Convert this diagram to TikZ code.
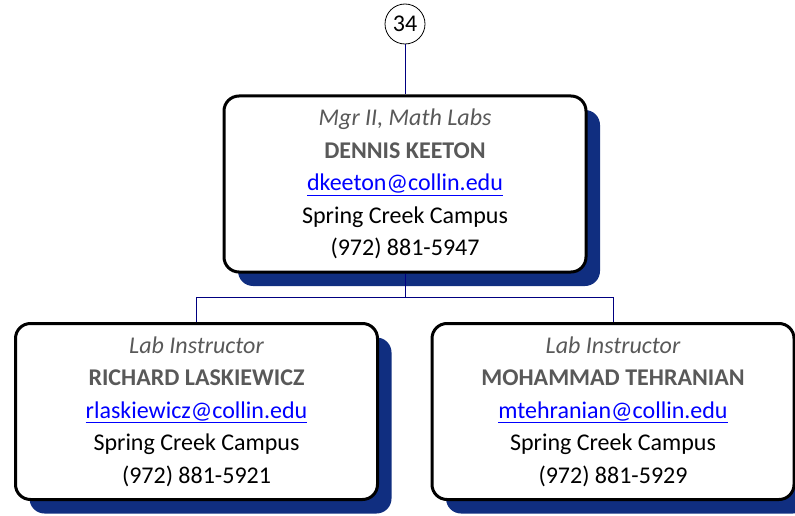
\documentclass[tikz,border=0pt]{standalone}
\usepackage{fontspec}
\setmainfont{Carlito}
\usetikzlibrary{shadows}
\definecolor{navyshade}{RGB}{16,46,128}
\definecolor{linenavy}{RGB}{0,0,128}
\definecolor{txtgray}{RGB}{89,89,89}
\definecolor{linkblue}{RGB}{0,0,255}
\tikzset{
  posbox/.style={draw=black, line width=3pt, fill=white, rounded corners=15pt,
    minimum width=362pt, minimum height=176pt, inner sep=0pt, align=center,
    font=\fontsize{24}{32.5}\selectfont,
    drop shadow={shadow xshift=14pt, shadow yshift=-14pt, fill=navyshade, opacity=1}},
  orgline/.style={draw=linenavy, line width=1pt},
  pagenum/.style={circle, draw, line width=0.8pt, minimum size=40pt, inner sep=0pt,
    font=\fontsize{24}{24}\selectfont}
}
\newcommand{\postitle}[1]{{\color{txtgray}\itshape #1}}
\newcommand{\posname}[1]{{\color{txtgray}\bfseries #1}}
\newcommand{\posmail}[1]{{\color{linkblue}\underline{#1}}}
\begin{document}
\begin{tikzpicture}[x=1pt,y=-1pt]
  \useasboundingbox (0,0) rectangle (795,516);

  \node[pagenum] (page) at (405,24) {34};

  \node[posbox] (mgr) at (405,184)
    {\postitle{Mgr II, Math Labs}\\ \posname{DENNIS KEETON}\\ \posmail{dkeeton@collin.edu}\\
     Spring Creek Campus\\ (972) 881-5947};

  \node[posbox] (lab1) at (196.5,411.5)
    {\postitle{Lab Instructor}\\ \posname{RICHARD LASKIEWICZ}\\ \posmail{rlaskiewicz@collin.edu}\\
     Spring Creek Campus\\ (972) 881-5921};
  \node[posbox] (lab2) at (613,411.5)
    {\postitle{Lab Instructor}\\ \posname{MOHAMMAD TEHRANIAN}\\ \posmail{mtehranian@collin.edu}\\
     Spring Creek Campus\\ (972) 881-5929};

  % connectors
  \coordinate (bus) at (405,297);
  \draw[orgline] (page.south) -- (mgr.north);
  \draw[orgline] (mgr.south) -- (bus);
  \foreach \n in {lab1,lab2}
    \draw[orgline] (bus) -| (\n.north);
\end{tikzpicture}
\end{document}
